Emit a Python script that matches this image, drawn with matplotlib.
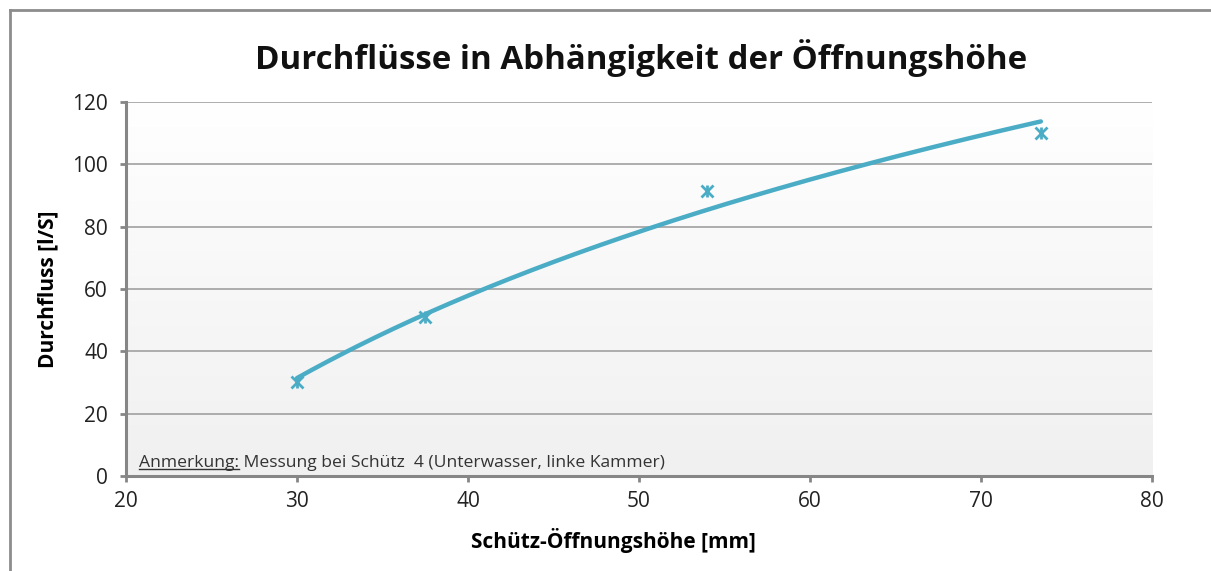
import numpy as np
import matplotlib.pyplot as plt
from matplotlib.lines import Line2D

# Messwerte
oeffnung_mm = [30, 37.5, 54, 73.5]
durchfluss_ls = [30, 51, 91.5, 110]

x_ticks = [20, 30, 40, 50, 60, 70, 80]
y_ticks = [0, 20, 40, 60, 80, 100, 120]

farbe = "#4bacc6"
grau = "#868686"

plt.rcParams["font.family"] = ["Open Sans", "DejaVu Sans"]

fig = plt.figure(figsize=(12.11, 5.71), dpi=100)
ax = fig.add_axes([0.1040, 0.1664, 0.8473, 0.655])

# Verlauf im Hintergrund (weiss -> hellgrau)
grad = np.linspace(1.0, 0.0, 256).reshape(-1, 1)
ax.imshow(grad, extent=[0, 1, 0, 1], transform=ax.transAxes, aspect="auto",
          cmap=plt.matplotlib.colors.LinearSegmentedColormap.from_list("g", ["#f0f0f0", "#ffffff"]),
          zorder=0)

# logarithmische Trendlinie
b, a = np.polyfit(np.log(oeffnung_mm), durchfluss_ls, 1)
xs = np.linspace(min(oeffnung_mm), max(oeffnung_mm), 200)
ax.plot(xs, a + b * np.log(xs), color=farbe, lw=3.2, solid_capstyle="round", zorder=3)

# Messpunkte (Excel-Stern: x + |)
ax.plot(oeffnung_mm, durchfluss_ls, ls="none", marker="x", ms=8, mew=2, color=farbe, zorder=4)
ax.plot(oeffnung_mm, durchfluss_ls, ls="none", marker="|", ms=8, mew=2, color=farbe, zorder=4)

ax.set_xlim(20, 80)
ax.set_ylim(0, 120)
ax.set_xticks(x_ticks)
ax.set_yticks(y_ticks)
ax.tick_params(labelsize=15, colors=grau, labelcolor="#222222", width=2, length=4)
ax.tick_params(axis="x", pad=7)
ax.tick_params(axis="y", pad=9)
ax.grid(axis="y", color="#a0a0a0", lw=1.2, zorder=1)
ax.set_axisbelow(True)
for s in ["top", "right"]:
    ax.spines[s].set_visible(False)
for s in ["left", "bottom"]:
    ax.spines[s].set_color(grau)
    ax.spines[s].set_linewidth(2.2)

ax.set_xlabel("Schütz-Öffnungshöhe [mm]", fontsize=15, fontweight="bold")
ax.xaxis.set_label_coords(0.475, -0.139)
ax.set_ylabel("Durchfluss [l/S]", fontsize=15, fontweight="bold", labelpad=10)

fig.text(0.529, 0.898, "Durchflüsse in Abhängigkeit der Öffnungshöhe", ha="center", va="center",
         fontsize=23.8, fontweight="bold", color="#111111")

# Anmerkung mit unterstrichenem Wort
t1 = ax.text(0.0127, 0.025, "Anmerkung:", transform=ax.transAxes, fontsize=12.6, color="#333333",
             va="baseline")
fig.canvas.draw()
bb = t1.get_window_extent()
t2 = ax.annotate(" Messung bei Schütz  4 (Unterwasser, linke Kammer)", xy=(1, 0), xycoords=t1,
                 va="bottom", fontsize=12.6, color="#333333")
fig.add_artist(Line2D([bb.x0, bb.x1], [bb.y0 + 2, bb.y0 + 2], transform=None, color="#333333", lw=1))

# Rahmen des Diagramms
fig.add_artist(Line2D([10, 10], [0, 561], transform=None, color="#8c8c8c", lw=2))
fig.add_artist(Line2D([10, 1211], [561, 561], transform=None, color="#8c8c8c", lw=2))

fig.savefig("out.png", dpi=100)
